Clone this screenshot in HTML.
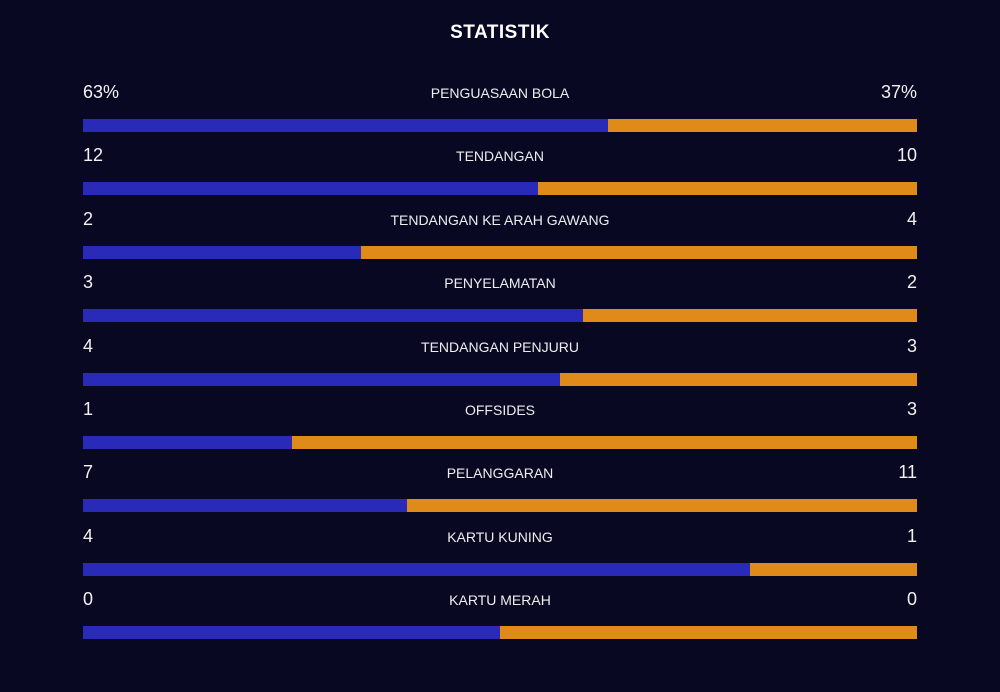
<!DOCTYPE html>
<html><head><meta charset="utf-8"><style>
html,body{margin:0;padding:0;background:#080822;}
#root{position:relative;width:1000px;height:692px;background:#080822;overflow:hidden;font-family:"Liberation Sans",sans-serif;color:#fff;}
.title{position:absolute;top:22px;left:0;width:1000px;text-align:center;font-weight:bold;font-size:19px;letter-spacing:0.5px;}
.v{position:absolute;font-size:18px;color:#f2f2f2;}
.lab{position:absolute;left:0;width:1000px;text-align:center;font-size:14px;color:#eee;}
.bar{position:absolute;left:83px;width:834px;height:13px;}
.b{position:absolute;top:0;height:13px;}
</style></head><body>
<div id="root">
<div class="title">STATISTIK</div>
</div>
<script>
const categories=["PENGUASAAN BOLA","TENDANGAN","TENDANGAN KE ARAH GAWANG","PENYELAMATAN","TENDANGAN PENJURU","OFFSIDES","PELANGGARAN","KARTU KUNING","KARTU MERAH"];
const homeValues=[63,12,2,3,4,1,7,4,0];
const awayValues=[37,10,4,2,3,3,11,1,0];
const homeLabels=["63%","12","2","3","4","1","7","4","0"];
const awayLabels=["37%","10","4","2","3","3","11","1","0"];
const root=document.getElementById('root');
const W=834,top0=119,step=63.4;
function frac(h,a){return (h+a)===0?0.5:h/(h+a);}
categories.forEach((c,i)=>{
  const y=top0+i*step;
  const hv=document.createElement('div');hv.className='v';hv.style.left='83px';hv.style.top=(y-37)+'px';hv.textContent=homeLabels[i];
  
  
  const av=document.createElement('div');av.className='v';av.style.right='83px';av.style.top=(y-37)+'px';av.textContent=awayLabels[i];
  
  
  const lb=document.createElement('div');lb.className='lab';lb.style.top=(y-34)+'px';lb.textContent=c;
  
  
  const bar=document.createElement('div');bar.className='bar';bar.style.top=y+'px';
  
  
  const f=frac(homeValues[i],awayValues[i]);
  const hb=document.createElement('div');hb.className='b';hb.style.left='0';hb.style.width=(W*f)+'px';hb.style.background='#2a2ab8';
  
  
  const ab=document.createElement('div');ab.className='b';ab.style.left=(W*f)+'px';ab.style.width=(W*(1-f))+'px';ab.style.background='#e08a1a';
  
  
  bar.appendChild(hb);bar.appendChild(ab);
  root.appendChild(hv);root.appendChild(av);root.appendChild(lb);root.appendChild(bar);
});
</script>
</body></html>
